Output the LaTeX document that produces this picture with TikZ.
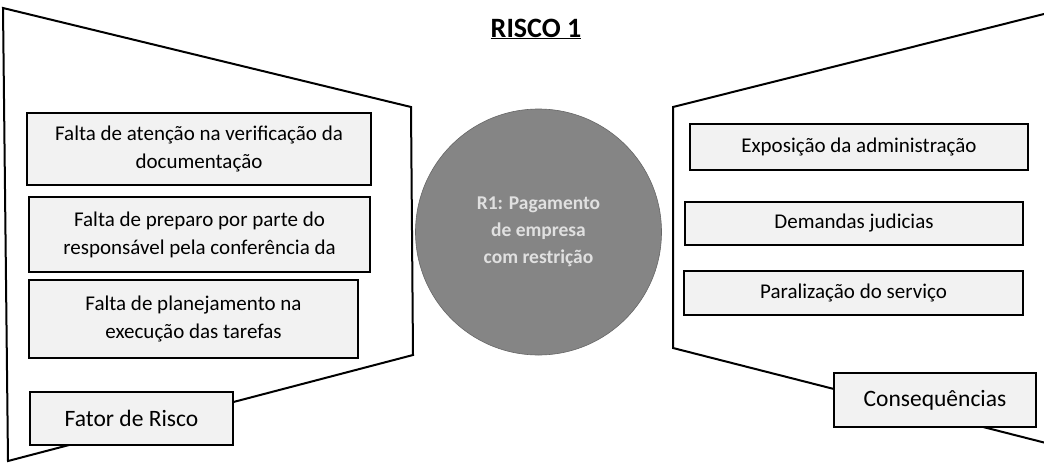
\documentclass[tikz,border=0pt]{standalone}
\usepackage{fontspec}
\setmainfont{Carlito}
\begin{document}
\begin{tikzpicture}[x=1pt,y=-1pt,
  outline/.style={line width=2pt,line join=miter},
  itembox/.style={draw=black,line width=1.8pt,fill=black!5,inner sep=0pt,align=center,
    font=\fontsize{21}{28}\selectfont},
  labelbox/.style={draw=black,line width=1.8pt,fill=black!5,inner sep=0pt,align=center,
    font=\fontsize{23.5}{28}\selectfont},
  riskcircle/.style={circle,fill=black!48,draw=black!60,line width=0.6pt,inner sep=0pt,
    minimum size=246pt,align=center,text=black!12,
    font=\fontsize{19.5}{27}\selectfont\bfseries}]
\useasboundingbox (0,0) rectangle (1044,464);
\fill[white] (0,0) rectangle (1044,464);
% title
\node[font=\fontsize{28}{32}\selectfont\bfseries,anchor=base] (title) at (536,37) {\underline{RISCO 1}};
% left funnel
\draw[outline] (8,461) -- (3,8) -- (411,107) -- (413,355) -- cycle;
% right funnel
\draw[outline] (1046,13.5) -- (673,107) -- (673,348) -- (1046,443);
% central circle
\node[riskcircle] (risk) at (538.5,232) {R1: Pagamento\\de empresa\\com restrição};
% left items
\node[itembox,minimum width=344pt,minimum height=72pt] (f1) at (199,149)
  {Falta de atenção na verificação da\\documentação};
\node[itembox,minimum width=341pt,minimum height=75pt] (f2) at (199.5,234.5)
  {Falta de preparo por parte do\\responsável pela conferência da};
\node[itembox,minimum width=329pt,minimum height=78pt] (f3) at (193.5,319)
  {Falta de planejamento na\\execução das tarefas};
\node[labelbox,minimum width=203pt,minimum height=53pt] (fator) at (131.5,418.5)
  {Fator de Risco};
% right items
\node[itembox,minimum width=338pt,minimum height=46pt] (c1) at (859,147)
  {Exposição da administração};
\node[itembox,minimum width=338pt,minimum height=43pt] (c2) at (854,223.5)
  {Demandas judicias};
\node[itembox,minimum width=339pt,minimum height=44pt] (c3) at (853.5,293)
  {Paralização do serviço};
\node[labelbox,minimum width=202pt,minimum height=54pt] (cons) at (935,400)
  {Consequências};
\end{tikzpicture}
\end{document}
